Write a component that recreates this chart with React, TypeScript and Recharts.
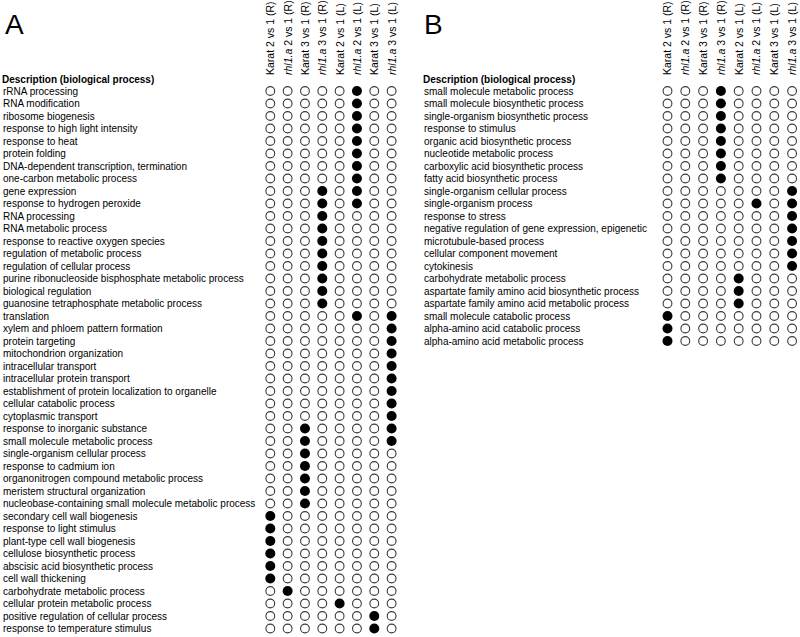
import React from "react";
import { ScatterChart, Scatter, XAxis, YAxis, Customized } from "recharts";

const genotypes = ["Karat", "rhl1.a", "Karat", "rhl1.a", "Karat", "rhl1.a", "Karat", "rhl1.a"];
const comparisons = ["2 vs 1 (R)", "2 vs 1 (R)", "3 vs 1 (R)", "3 vs 1 (R)", "2 vs 1 (L)", "2 vs 1 (L)", "3 vs 1 (L)", "3 vs 1 (L)"];

const processesA = [
  "rRNA processing",
  "RNA modification",
  "ribosome biogenesis",
  "response to high light intensity",
  "response to heat",
  "protein folding",
  "DNA-dependent transcription, termination",
  "one-carbon metabolic process",
  "gene expression",
  "response to hydrogen peroxide",
  "RNA processing",
  "RNA metabolic process",
  "response to reactive oxygen species",
  "regulation of metabolic process",
  "regulation of cellular process",
  "purine ribonucleoside bisphosphate metabolic process",
  "biological regulation",
  "guanosine tetraphosphate metabolic process",
  "translation",
  "xylem and phloem pattern formation",
  "protein targeting",
  "mitochondrion organization",
  "intracellular transport",
  "intracellular protein transport",
  "establishment of protein localization to organelle",
  "cellular catabolic process",
  "cytoplasmic transport",
  "response to inorganic substance",
  "small molecule metabolic process",
  "single-organism cellular process",
  "response to cadmium ion",
  "organonitrogen compound metabolic process",
  "meristem structural organization",
  "nucleobase-containing small molecule metabolic process",
  "secondary cell wall biogenesis",
  "response to light stimulus",
  "plant-type cell wall biogenesis",
  "cellulose biosynthetic process",
  "abscisic acid biosynthetic process",
  "cell wall thickening",
  "carbohydrate metabolic process",
  "cellular protein metabolic process",
  "positive regulation of cellular process",
  "response to temperature stimulus",
];

// significant (filled) comparison columns per process, 0-based
const hitsA: number[][] = [
  [5], [5], [5], [5], [5], [5], [5], [5],
  [3, 5], [3, 5],
  [3], [3], [3], [3], [3], [3], [3], [3],
  [5, 7],
  [7], [7], [7], [7], [7], [7], [7], [7],
  [2, 7], [2, 7],
  [2], [2], [2], [2], [2],
  [0], [0], [0], [0], [0], [0],
  [1],
  [4],
  [6], [6],
];

const processesB = [
  "small molecule metabolic process",
  "small molecule biosynthetic process",
  "single-organism biosynthetic process",
  "response to stimulus",
  "organic acid biosynthetic process",
  "nucleotide metabolic process",
  "carboxylic acid biosynthetic process",
  "fatty acid biosynthetic process",
  "single-organism cellular process",
  "single-organism process",
  "response to stress",
  "negative regulation of gene expression, epigenetic",
  "microtubule-based process",
  "cellular component movement",
  "cytokinesis",
  "carbohydrate metabolic process",
  "aspartate family amino acid biosynthetic process",
  "aspartate family amino acid metabolic process",
  "small molecule catabolic process",
  "alpha-amino acid catabolic process",
  "alpha-amino acid metabolic process",
];

const hitsB: number[][] = [
  [3], [3], [3], [3], [3], [3], [3], [3],
  [7],
  [5, 7],
  [7], [7], [7], [7], [7],
  [4], [4], [4],
  [0], [0], [0],
];

const FONT = "Arial, 'Liberation Sans', Helvetica, sans-serif";
const TOTAL_ROWS = 44;

function buildCells(hits: number[][]) {
  const out: { x: number; y: number; filled: boolean }[] = [];
  hits.forEach((cols, r) => {
    for (let c = 0; c < genotypes.length; c++) {
      out.push({ x: c, y: r, filled: cols.includes(c) });
    }
  });
  return out;
}

const Dot = (props: any) => {
  const { cx, cy, payload } = props;
  if (cx == null || cy == null) return null;
  return payload.filled ? (
    <circle cx={cx} cy={cy} r={5} fill="#000" />
  ) : (
    <circle cx={cx} cy={cy} r={4.4} fill="#fff" stroke="#3a3a3a" strokeWidth={1.1} />
  );
};

const HeaderTick = (props: any) => {
  const { x, payload } = props;
  const i = payload.value as number;
  const italic = genotypes[i] !== "Karat";
  const by = 75;
  return (
    <text
      x={x}
      y={by}
      transform={`rotate(-90 ${x} ${by})`}
      dominantBaseline="central"
      fontSize={10.5}
      fontFamily={FONT}
      fill="#000"
    >
      <tspan fontStyle={italic ? "italic" : "normal"}>{genotypes[i]}</tspan>
      <tspan>{" " + comparisons[i]}</tspan>
    </text>
  );
};

const makeRowTick = (labels: string[], tx: number) => (props: any) => {
  const { y, payload } = props;
  return (
    <text x={tx} y={y} dominantBaseline="central" fontSize={10} fontFamily={FONT} fill="#000">
      {labels[payload.value]}
    </text>
  );
};

type PanelProps = {
  letter: string;
  processes: string[];
  hits: number[][];
  left: number;
  width: number;
  labelX: number;
  letterX: number;
  yAxisWidth: number;
  marginRight: number;
  xDomain: [number, number];
};

const Panel = (p: PanelProps) => {
  const data = buildCells(p.hits);
  const rowTicks = p.processes.map((_, i) => i);
  return (
    <div style={{ position: "absolute", left: p.left, top: 0 }}>
      <ScatterChart
        width={p.width}
        height={637}
        margin={{ top: 0, right: p.marginRight, bottom: 2.25, left: 0 }}
      >
        <XAxis
          type="number"
          dataKey="x"
          orientation="top"
          domain={p.xDomain}
          ticks={[0, 1, 2, 3, 4, 5, 6, 7]}
          interval={0}
          height={84.75}
          axisLine={false}
          tickLine={false}
          tick={HeaderTick}
          allowDataOverflow
        />
        <YAxis
          type="number"
          dataKey="y"
          reversed
          domain={[-0.5, TOTAL_ROWS - 0.5]}
          ticks={rowTicks}
          interval={0}
          width={p.yAxisWidth}
          axisLine={false}
          tickLine={false}
          tick={makeRowTick(p.processes, p.labelX)}
          allowDataOverflow
        />
        <Scatter data={data} shape={Dot} isAnimationActive={false} />
        <Customized
          component={() => (
            <g>
              <text x={p.letterX} y={34} fontSize={28} fontFamily={FONT} fill="#000">
                {p.letter}
              </text>
              <text
                x={p.labelX - 1}
                y={79}
                dominantBaseline="central"
                fontSize={10}
                fontWeight="bold"
                fontFamily={FONT}
                fill="#000"
              >
                Description (biological process)
              </text>
            </g>
          )}
        />
      </ScatterChart>
    </div>
  );
}

export default function App() {
  return (
    <div
      style={{
        position: "absolute",
        left: 0,
        top: 0,
        width: 800,
        height: 637,
        background: "#fff",
        overflow: "hidden",
      }}
    >
      <Panel
        letter="A"
        processes={processesA}
        hits={hitsA}
        left={0}
        width={410}
        labelX={3}
        letterX={5}
        yAxisWidth={261.63}
        marginRight={9.73}
        xDomain={[-0.5, 7.5]}
      />
      <Panel
        letter="B"
        processes={processesB}
        hits={hitsB}
        left={400}
        width={400}
        labelX={24}
        letterX={24}
        yAxisWidth={258.6}
        marginRight={0.8}
        xDomain={[-0.5, 7.4]}
      />
    </div>
  );
}
